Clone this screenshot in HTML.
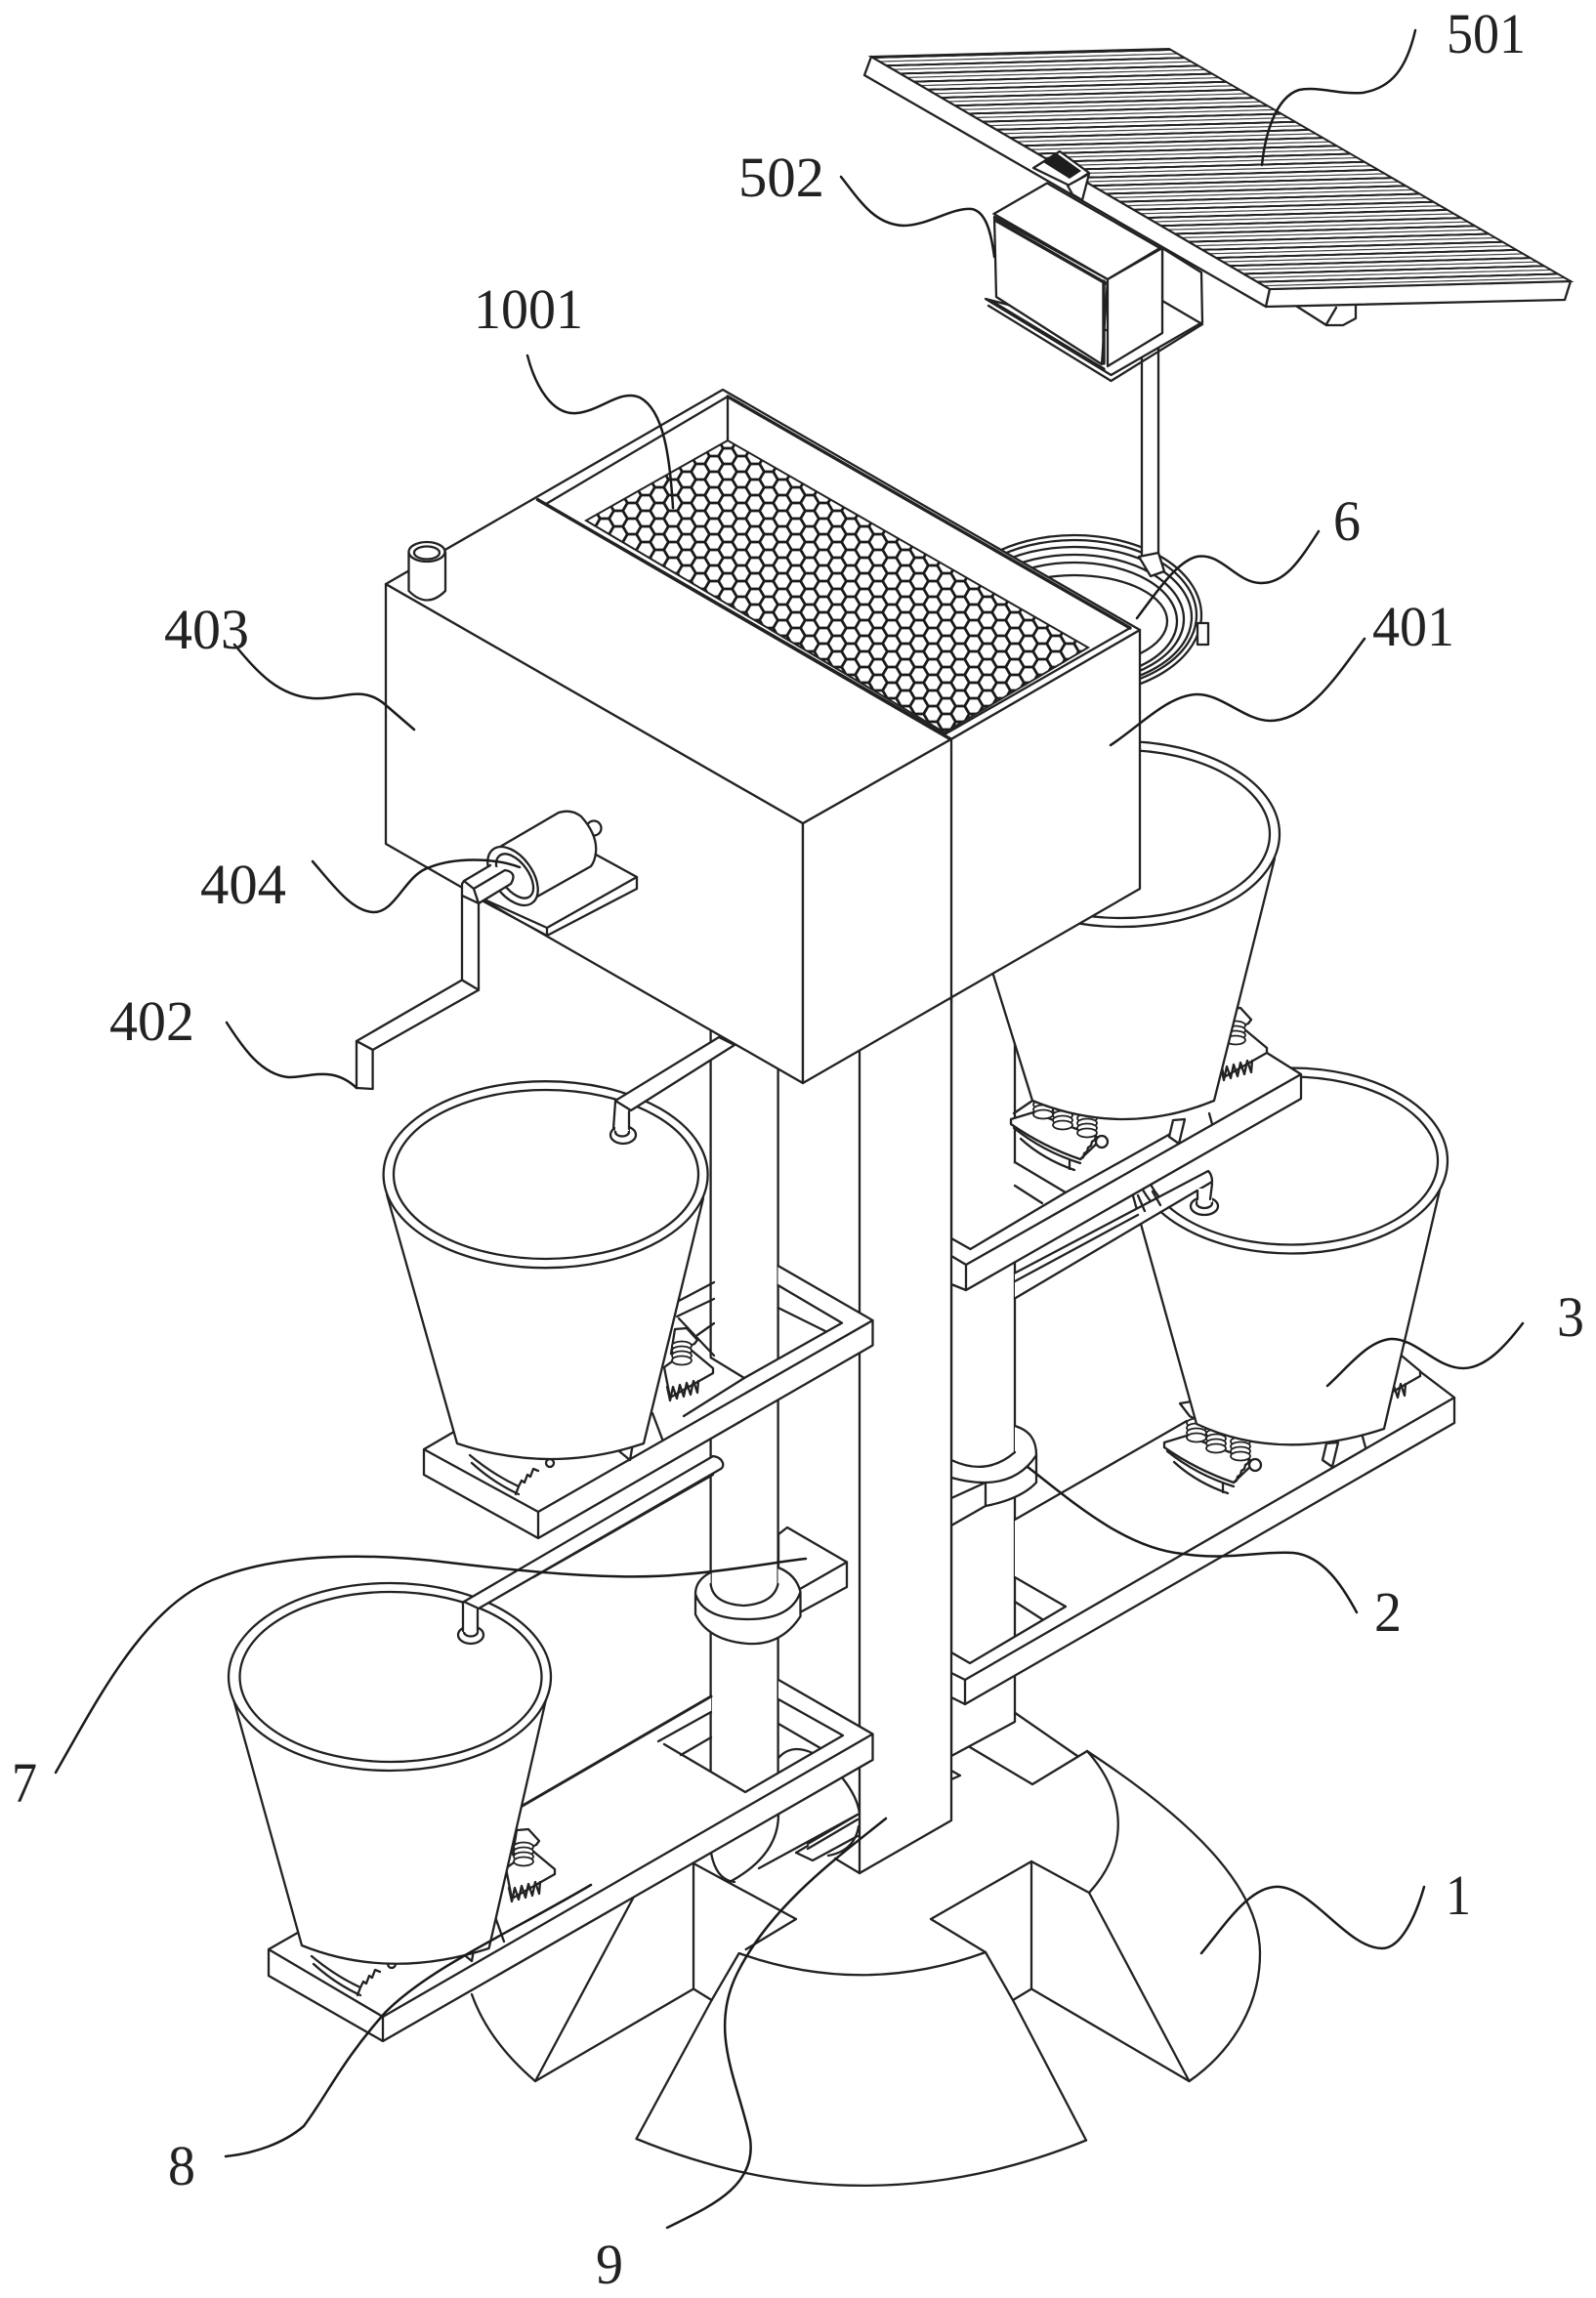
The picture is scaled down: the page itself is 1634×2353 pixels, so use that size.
<!DOCTYPE html>
<html>
<head>
<meta charset="utf-8">
<style>
html,body{margin:0;padding:0;background:#fff;width:1634px;height:2353px;overflow:hidden}
svg{display:block}
.l{fill:none;stroke:#222;stroke-width:2.3;stroke-linejoin:round;stroke-linecap:round}
.w{fill:#fff;stroke:#222;stroke-width:2.3;stroke-linejoin:round}
.n{fill:#fff;stroke:none}
.t{fill:none;stroke:#222;stroke-width:3.4;stroke-linecap:round}
.s{fill:none;stroke:#1a1a1a;stroke-width:2.5;stroke-linecap:round}
text{font-family:"Liberation Serif",serif;font-size:58px;fill:#222}
</style>
</head>
<body>
<svg width="1634" height="2353" viewBox="0 0 1634 2353" xmlns="http://www.w3.org/2000/svg">
<defs>
<pattern id="hex" patternUnits="userSpaceOnUse" width="28" height="16" patternTransform="translate(745,451)">
<rect width="28" height="16" fill="#fff"/>
<path d="M4.67,8L9.33,0L4.67,-8M4.67,24L9.33,16L4.67,8M9.33,0H18.67M9.33,16H18.67M18.67,0L23.33,8L18.67,16M18.67,0L23.33,-8M18.67,16L23.33,24M23.33,8H32.67M-4.67,8H4.67" fill="none" stroke="#1a1a1a" stroke-width="2.8"/>
</pattern>
<pattern id="slat" patternUnits="userSpaceOnUse" width="100" height="100" patternTransform="matrix(3.05,-0.08,0.1407,0.082,892,58)">
<rect width="100" height="100" fill="#fff"/>
<rect y="0" width="100" height="24" fill="#222"/>
<rect y="54" width="100" height="14" fill="#444"/>
</pattern>
<g id="coil">
<ellipse cx="0" cy="0" rx="10" ry="4.5" class="w" style="stroke-width:1.8"/>
<ellipse cx="0" cy="5" rx="10" ry="4.5" class="w" style="stroke-width:1.8"/>
<ellipse cx="0" cy="10" rx="10" ry="4.5" class="w" style="stroke-width:1.8"/>
<ellipse cx="0" cy="15" rx="10" ry="4.5" class="w" style="stroke-width:1.8"/>
</g>
<g id="L">
<polygon class="w" points="1208,1437 1220,1435 1227,1455 1218,1450"/>
<path class="w" d="M1192,1477L1215,1470L1285,1497L1263,1518Q1225,1505 1192,1482Z"/>
<path class="l" d="M1195,1486Q1225,1510 1263,1522M1202,1497Q1225,1518 1257,1529M1252,1520V1528M1263,1518l3,-2l1,-4l3,-2l1,-4l3,-2l1,-4l3,-2l1,-4"/>
<circle class="w" cx="1285" cy="1500" r="6"/>
<use href="#coil" x="1225" y="1457"/>
<use href="#coil" x="1245" y="1468"/>
<use href="#coil" x="1270" y="1476"/>
<polygon class="w" points="1358,1478 1354,1495 1364,1502 1370,1477"/>
<path class="l" d="M1395,1471L1398,1482"/>
</g>
<g id="R">
<polygon class="w" points="1247,1072 1273,1053 1297,1073 1297,1078 1253,1103"/>
<polygon class="w" points="1258,1033 1270,1032 1281,1044 1278,1048 1254,1058"/>
<use href="#coil" x="1265" y="1050"/>
<path class="l" d="M1250,1092l3,14l3,-14l4,12l3,-14l4,12l3,-14l4,12l3,-14l4,12l1,-12"/>
</g>
<g id="LB">
<path class="l" d="M481,1490Q505,1510 531,1522M483,1498Q505,1518 531,1530M531,1522l3,-6l3,2l3,-8l3,2l3,-8l5,2M531,1522l-3,8"/>
<circle class="w" cx="563" cy="1498" r="4"/>
</g>
</defs>

<rect width="1634" height="2353" fill="#fff"/>

<!-- base -->
<g class="l">
<path d="M1113,1793C1215,1860 1290,1930 1290,2000C1290,2060 1255,2105 1217.5,2131"/>
<path d="M1113,1793C1155,1840 1155,1895 1115,1938"/>
<path d="M1056,1906V2036.5M1056,1906L953,1965L1009,1999M1056,1906L1115,1938L1217.5,2131L1056,2036.5L1037,2048L1009,1999M1037,2048L1112,2191.5"/>
<path d="M1112,2191.5Q883,2285 651.5,2190L728.6,2048L756.6,2000Q883,2045 1009,1999"/>
<path d="M710,1908V2036.5M710,1908L815,1965L763.7,1996M710,2036.5L728.6,2048M710,2036.5L548,2131L649,1942M548,2131Q500,2090 483,2042"/>
<path d="M1000,1740L1038,1762M1038,1753L1103,1798M993,1789L1057,1827L1113,1793M974,1813L983,1818L974,1822"/>
</g>
<!-- roller -->
<path class="n" d="M728,1800V1897Q735,1925 750,1927L878,1858V1820L860,1800Z"/>
<g class="l">
<path d="M862,1820Q878,1840 880,1857M777,1913L878,1858M797,1858Q797,1900 747,1927M728,1897Q733,1925 752,1927"/>
<path d="M815,1897L832,1905L878,1880M815,1897L827,1890M827,1888L878,1858M827,1893L878,1863M848,1900Q875,1895 879,1870M855,1903L880,1918"/>
</g>

<!-- back column -->
<polygon class="w" points="974,985 1039,985 1039,1763 974,1798"/>

<!-- lower right platform -->
<polygon class="n" points="974,1692 993,1703 1091,1645 1039,1615 1039,1556 1215,1455 1435,1390 1489,1431 1489,1457 988,1745 974,1738"/>
<g class="l">
<path d="M1039,1556L1215,1455M1435,1390L1489,1431M1489,1431V1457L988,1745V1720L1489,1431M988,1745L974,1738M974,1713L988,1720"/>
<path d="M1039,1615L1091,1645L993,1703L974,1692M1039,1640L1067,1658"/>
</g>
<use href="#L"/>
<use href="#R" x="157" y="331"/>
<!-- bucket 3 -->
<path class="w" d="M1156,1210L1225,1458Q1310,1498 1417,1463L1476,1210Z"/>
<ellipse class="w" cx="1322" cy="1188.5" rx="160" ry="95"/>
<ellipse class="w" cx="1322" cy="1188.5" rx="150" ry="86"/>
<!-- collar 2 -->
<path class="n" d="M974,1495Q1010,1512 1039,1487V1460C1055,1465 1061,1475 1061,1490V1518Q1045,1535 1009,1542L974,1562Z"/>
<path class="l" d="M974,1495Q1010,1512 1039,1487M1039,1460C1055,1465 1061,1475 1061,1490V1518Q1045,1535 1009,1542V1518M974,1513Q1035,1530 1061,1490M974,1534L1009,1518M974,1562L1009,1542"/>

<!-- upper right platform -->
<polygon class="n" points="974,1286 1039,1190 1091,1221 1040,1150 1057,1127 1250,1050 1294,1075 1332,1100 1332,1125 989,1321 974,1315"/>
<g class="l">
<path d="M1039,1190L1091,1221L993.5,1279L974,1268M1039,1214L1067,1232"/>
<path d="M974,1286L989,1295L1332,1100L1297,1078M1332,1100V1125L989,1321V1295M989,1321L974,1315"/>
<path d="M1038,1140L1057,1127M1091,1221L1200,1160"/>
</g>
<!-- arm over bucket 3 -->
<g>
<polygon class="n" points="1039,1303.5 1237,1199 1243,1207 1039,1329.5"/>
<path class="l" d="M1039,1303.5L1237,1199Q1241,1203 1241,1210L1039,1329.5M1039,1312L1165,1244M1165,1224L1172,1240M1180,1220L1188,1234"/>
<ellipse class="w" cx="1233" cy="1235" rx="14" ry="9"/>
<ellipse class="l" cx="1233" cy="1232" rx="8" ry="5"/>
<path class="n" d="M1226,1217H1241V1231H1226Z"/>
<path class="l" d="M1241,1212L1239,1228M1226,1219V1228"/>
</g>
<use href="#L" x="-157" y="-331"/>
<use href="#R"/>
<!-- upper right bucket -->
<path class="w" d="M980,879L1057,1127Q1150,1165 1243,1127L1305,879Z"/>
<ellipse class="w" cx="1148" cy="854" rx="162" ry="95"/>
<ellipse class="w" cx="1148" cy="854" rx="152" ry="86"/>

<!-- rings, pole, panel -->
<g>
<ellipse class="w" cx="1100" cy="630" rx="130" ry="82"/>
<rect class="w" x="1226" y="638" width="11" height="22"/>
<ellipse class="l" cx="1100" cy="630" rx="125" ry="77"/>
<ellipse class="l" cx="1100" cy="632" rx="120" ry="72"/>
<ellipse class="l" cx="1100" cy="634" rx="112" ry="66"/>
<ellipse class="l" cx="1100" cy="636" rx="105" ry="60"/>
<ellipse class="l" cx="1100" cy="636" rx="95" ry="47"/>
</g>
<rect class="w" x="1169" y="355" width="17" height="215"/>
<path class="w" d="M1166,570L1186,566L1192,585L1178,590Z"/>
<polygon class="w" points="1009,306 1137.5,384 1231,330 1230,279 1190,254 1190,308 1140,340"/>
<path class="l" d="M1012,313L1137.5,390L1231,332M1190,308L1231,332"/>
<polygon class="w" points="1017.5,219 1072,187.5 1187.5,254 1134,286"/>
<polygon class="w" points="1018,222 1134,286 1128,373 1020,304"/>
<polygon class="w" points="1134,286 1190,254 1190,341 1134,375"/>
<path class="t" d="M1020,226L1132,290M1130,288V372M1014,308L1130,378"/>
<polygon class="w" points="1325,312 1358,333 1375,333 1388,326 1388,310"/>
<path class="l" d="M1368,315L1358,332"/>
<polygon class="w" points="892,58 885,77 1296,314 1300,296"/>
<polygon class="w" points="1300,296 1296,314 1602,307 1608,288"/>
<polygon points="892,58 1197,50 1608,288 1300,296" fill="url(#slat)" stroke="#222" stroke-width="2"/>
<polygon class="w" points="1058,172 1085,155 1115,177 1095,190"/>
<polygon points="1068,166 1082,157 1107,175 1095,183" fill="#1d1d1d"/>
<polygon class="w" points="1093,190 1115,178 1108,205 1098,199"/>

<!-- front pillar -->
<polygon class="w" points="880,1050 974,1020 974,1864 880,1918"/>

<!-- shaft -->
<rect class="w" x="727.6" y="1040" width="69" height="810"/>

<!-- lower-left frame -->
<polygon class="n" points="275,1996 307.7,1977 534,1849.5 728,1737 728,1753 674,1783 728,1815 763,1835 863,1777 797,1740 797,1720 893.5,1775.5 893.5,1802 392,2090 275,2023"/>
<g class="l">
<path d="M275,1996L392,2065L893.5,1775.5L797,1720M893.5,1775.5V1802L392,2090L275,2023V1996L310,1976M392,2065V2090"/>
<path d="M797,1740L863,1777L763,1835L680,1786M674,1783L728,1753M697,1797L728,1779M797,1765L840,1790M797,1800Q810,1785 832,1795"/>
<path d="M534,1849.5L728,1737" style="stroke-width:3"/>
</g>
<!-- left-mid frame -->
<g class="l">
<path d="M695,1332L731,1313M693,1348L731,1330M714,1367L731,1355"/>
</g>
<polygon class="n" points="434,1484 470,1463 695,1350 727.6,1390 762,1411 862,1354.6 796.5,1316 796.5,1296 893.5,1352 893.5,1377.5 551,1575 434,1510"/>
<g class="l">
<path d="M434,1484L551,1548L893.5,1352L796.5,1296M893.5,1352V1377.5L551,1575L434,1510V1484L470,1463M551,1548V1575"/>
<path d="M796.5,1316L862,1354.6L762,1411L727.6,1390M796.5,1339L845,1363M762,1411L700,1450M695,1350L731,1388M668,1447L678.6,1475"/>
</g>

<!-- bracket 7 -->
<polygon class="w" points="806,1564 867,1599.5 867,1625 819,1651 797,1625 797,1571"/>
<path class="l" d="M819,1627L867,1599.5"/>
<path class="n" d="M712,1632Q712,1618 727.6,1610V1622Q730,1642 761,1644Q792,1642 796.5,1622V1605Q815,1612 819.5,1630V1655Q800,1685 766,1683Q725,1680 712,1653Z"/>
<path class="l" d="M727.6,1622Q730,1642 761,1644Q792,1642 796.5,1622M727.6,1610Q712,1618 712,1632Q720,1658 766,1658Q810,1658 819.5,1630Q815,1612 796.5,1605M819.5,1630V1655Q800,1685 766,1683Q725,1680 712,1653V1632"/>

<!-- left-mid springs + bucket -->
<use href="#R" x="-567" y="328"/>
<use href="#LB"/>
<path class="w" d="M634,1486L645,1495L648,1478Z"/>
<path class="w" d="M396,1223L468,1478Q563.5,1510 659,1478L720,1227Z"/>
<ellipse class="w" cx="558.6" cy="1202.7" rx="166" ry="95.5"/>
<ellipse class="w" cx="559" cy="1202.5" rx="156" ry="86.5"/>
<!-- lower-left springs + bucket -->
<use href="#R" x="-729" y="841"/>
<use href="#LB" x="-162" y="513"/>
<path class="w" d="M472,1999L483,2008L486,1991Z"/>
<path class="l" d="M506,1960L516,1988"/>
<path class="w" d="M239,1740L309,1992Q398.6,2028 500.6,1995L559,1740Z"/>
<ellipse class="w" cx="399" cy="1717" rx="165" ry="96"/>
<ellipse class="w" cx="400" cy="1717" rx="154.5" ry="87"/>
<!-- lower arm -->
<ellipse class="w" cx="482" cy="1674" rx="13" ry="9"/>
<ellipse class="l" cx="482" cy="1671" rx="7" ry="4.5"/>
<path class="n" d="M474,1640H489V1671H474Z"/>
<path class="l" d="M474,1640V1670M489,1648V1670"/>
<path class="w" d="M730,1491Q738,1492 740,1498Q741,1502 738,1504L490,1647L475,1640Z"/>
<path class="l" d="M730,1510L546,1615"/>

<!-- upper arm & nozzle -->
<ellipse class="w" cx="638" cy="1162" rx="13" ry="9"/>
<ellipse class="l" cx="637" cy="1159" rx="7" ry="4.5"/>
<path class="n" d="M630,1128H644V1158H630Z"/>
<path class="l" d="M630,1128L628,1156M644,1138V1156"/>
<polygon class="w" points="736,1062 752,1070 646,1137 630,1127"/>

<!-- tank -->
<polygon class="w" points="395,598 822,843 822,1109 395,864"/>
<polygon class="w" points="822,843 973.5,757 1167,645 1167,910 822,1109"/>
<polygon class="w" points="395,598 740,399 1167,645 973.5,757 822,843"/>
<polygon class="w" points="559,516 745,406 1157,643 967,752"/>
<polygon points="745,451 600,533 967,750 1114,663" fill="url(#hex)" stroke="#222" stroke-width="2"/>
<g class="l">
<path d="M745,406V451"/>
<path d="M974,757V1025"/>
</g>
<path class="t" d="M550.5,511.6L973.5,757M745,406L1157,643"/>

<!-- motor plate -->
<polygon class="n" points="498,922 610,875 652,898 652,910 560,958"/>
<path class="l" d="M610,875L652,898V910L560,958V950L652,898M498,922L560,950M495,923L560,958"/>
<!-- motor -->
<circle class="w" cx="608" cy="848" r="7.5"/>
<path class="w" d="M512,867L572,832Q585,828 595,836Q612,855 610,873Q609,882 605,887L543,922L520,900Z"/>
<ellipse class="w" cx="525" cy="897" rx="34" ry="20" transform="rotate(54 525 897)"/>
<ellipse class="l" cx="527" cy="897" rx="26" ry="14" transform="rotate(54 527 897)"/>
<!-- shaft + crank -->
<path class="n" d="M473,917V905L475,902L502,886L518,891Q530,893 523,905L490,925Z"/>
<path class="l" d="M473,917V905L475,902L502,886M485,910L517,891Q530,893 523,905L490,925M475,902L485,910L490,925M473,917L490,925"/>
<polygon class="w" points="473,917 490,925 490,1013.7 473,1003.5"/>
<polygon class="w" points="473,1003.5 490,1013.7 381.6,1075 365,1066"/>
<path class="w" d="M365,1066L381.6,1075V1115L365,1114Z"/>
<!-- cap -->
<path class="w" d="M418.5,565V605Q437,624 456,605V565Z"/>
<ellipse class="w" cx="437" cy="565" rx="18.5" ry="10"/>
<ellipse class="l" cx="437" cy="566" rx="13" ry="6.5"/>

<!-- leaders -->
<g class="s">
<path d="M1449,31C1440,70 1425,90 1395,95C1370,97 1350,88 1330,92C1305,100 1295,140 1292,169"/>
<path d="M861,181C880,205 895,230 925,231C950,231 975,212 995,214C1010,217 1015,240 1018,263"/>
<path d="M540,364C548,395 565,425 590,423C615,421 635,398 655,407C680,420 686,470 689,520"/>
<path d="M1350,544C1330,575 1315,598 1290,597C1265,596 1250,565 1225,570C1205,575 1185,605 1164,633"/>
<path d="M1397,654C1370,690 1340,738 1300,738C1275,738 1250,710 1225,711C1195,712 1165,745 1137,763"/>
<path d="M1559,1355C1540,1380 1520,1401 1498,1401C1470,1401 1450,1370 1424,1371C1400,1373 1380,1400 1359,1419"/>
<path d="M1052,1502C1095,1535 1150,1585 1211,1591C1255,1598 1290,1588 1324,1590C1355,1593 1375,1625 1389,1651"/>
<path d="M1230,2000C1255,1970 1280,1930 1310,1932C1345,1935 1380,1995 1415,1995C1435,1995 1450,1960 1458,1932"/>
<path d="M907,1862C860,1900 790,1950 755,2020C725,2080 755,2130 768,2190C775,2240 725,2260 683,2281"/>
<path d="M605,1930C520,1980 440,2015 395,2060C350,2110 335,2145 311,2177C290,2195 260,2205 231,2208"/>
<path d="M57,1815C100,1740 150,1640 225,1615C290,1590 380,1590 460,1600C560,1612 640,1618 700,1612C750,1608 790,1600 825,1596"/>
<path d="M240,660C265,690 285,712 320,715C350,717 370,700 395,722L424,747"/>
<path d="M320,882C340,905 360,933 382,934C405,935 415,895 440,888C465,878 505,878 532,888"/>
<path d="M232,1047C250,1075 268,1100 295,1103C315,1104 340,1090 365,1114"/>
</g>

<!-- labels -->
<text x="1481" y="54" textLength="81" lengthAdjust="spacingAndGlyphs">501</text>
<text x="756" y="201" textLength="88" lengthAdjust="spacingAndGlyphs">502</text>
<text x="485" y="336" textLength="112" lengthAdjust="spacingAndGlyphs">1001</text>
<text x="1365" y="553" textLength="28" lengthAdjust="spacingAndGlyphs">6</text>
<text x="1405" y="661" textLength="84" lengthAdjust="spacingAndGlyphs">401</text>
<text x="168" y="664" textLength="87" lengthAdjust="spacingAndGlyphs">403</text>
<text x="205" y="925" textLength="88" lengthAdjust="spacingAndGlyphs">404</text>
<text x="112" y="1065" textLength="87" lengthAdjust="spacingAndGlyphs">402</text>
<text x="1594" y="1368" textLength="28" lengthAdjust="spacingAndGlyphs">3</text>
<text x="1407" y="1670" textLength="28" lengthAdjust="spacingAndGlyphs">2</text>
<text x="1480" y="1960" textLength="26" lengthAdjust="spacingAndGlyphs">1</text>
<text x="12" y="1845" textLength="26" lengthAdjust="spacingAndGlyphs">7</text>
<text x="172" y="2237" textLength="28" lengthAdjust="spacingAndGlyphs">8</text>
<text x="610" y="2338" textLength="28" lengthAdjust="spacingAndGlyphs">9</text>
</svg>
</body>
</html>
